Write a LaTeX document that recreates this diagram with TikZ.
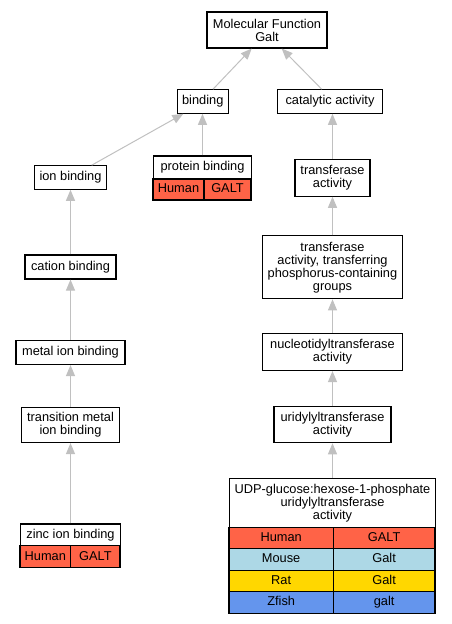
\documentclass[tikz,border=0pt]{standalone}
\usepackage{fontspec}
\setmainfont{Liberation Sans}
\usetikzlibrary{arrows.meta}
\definecolor{human}{HTML}{FF6347}
\definecolor{mouse}{HTML}{ADD8E6}
\definecolor{rat}{HTML}{FFD700}
\definecolor{zfish}{HTML}{6495ED}
\definecolor{edgegray}{HTML}{C0C0C0}
\begin{document}
\begin{tikzpicture}[x=1pt,y=-1pt,
  box/.style={draw, line width=1.1pt, inner sep=0pt, align=center, fill=white,
    font=\fontsize{12.8}{13}\selectfont},
  cell/.style={box, text height=9.3pt, text depth=2.7pt},
  edge/.style={draw=edgegray, line width=1pt, -{Triangle[length=11pt,width=9pt]}, edgegray}]
\useasboundingbox (0,0) rectangle (451,624);
% nodes
\node[box, minimum width=120pt, minimum height=36pt] (mf) at (267,30) {Molecular Function\\Galt};
\node[cell, minimum width=51pt, minimum height=23.5pt] (binding) at (202.75,101.5) {binding};
\node[cell, minimum width=105pt, minimum height=23.5pt] (cat) at (330,101.5) {catalytic activity};
\node[cell, minimum width=72pt, minimum height=23.5pt] (ion) at (70.5,177.5) {ion binding};
\node[cell, minimum width=98pt, minimum height=23pt] (prot) at (202.5,167.5) {protein binding};
\node[cell, fill=human, minimum width=51pt, minimum height=21pt] (protH) at (178.5,189.5) {Human};
\node[cell, fill=human, minimum width=47pt, minimum height=21pt] (protG) at (227.5,189.5) {GALT};
\node[box, minimum width=75pt, minimum height=37pt] (tr) at (332.5,177.7) {transferase\\activity};
\node[cell, minimum width=91pt, minimum height=24pt] (cation) at (70.5,267) {cation binding};
\node[box, minimum width=140pt, minimum height=63pt] (trp) at (332.5,267.3) {transferase\\activity, transferring\\phosphorus-containing\\groups};
\node[cell, minimum width=109pt, minimum height=24pt] (metal) at (70.5,352.5) {metal ion binding};
\node[box, minimum width=140pt, minimum height=37pt] (nuc) at (332.5,352) {nucleotidyltransferase\\activity};
\node[box, minimum width=98pt, minimum height=35pt] (trans) at (70.5,425) {transition metal\\ion binding};
\node[box, minimum width=117pt, minimum height=36pt] (uri) at (332.5,424.7) {uridylyltransferase\\activity};
\node[cell, minimum width=100pt, minimum height=21.7pt] (zinc) at (70.5,534.8) {zinc ion binding};
\node[cell, fill=human, minimum width=50.7pt, minimum height=22pt] (zincH) at (45.35,556.7) {Human};
\node[cell, fill=human, minimum width=49.3pt, minimum height=22pt] (zincG) at (95.35,556.7) {GALT};
\node[box, minimum width=206pt, minimum height=49pt] (udp) at (332.5,502.8) {UDP-glucose:hexose-1-phosphate\\uridylyltransferase\\activity};
\node[cell, fill=human, minimum width=104.3pt, minimum height=21.5pt] (udpHa) at (281.15,538.05) {Human};
\node[cell, fill=human, minimum width=101.7pt, minimum height=21.5pt] (udpHb) at (384.15,538.05) {GALT};
\node[cell, fill=mouse, minimum width=104.3pt, minimum height=21.5pt] (udpMa) at (281.15,559.55) {Mouse};
\node[cell, fill=mouse, minimum width=101.7pt, minimum height=21.5pt] (udpMb) at (384.15,559.55) {Galt};
\node[cell, fill=rat, minimum width=104.3pt, minimum height=21.5pt] (udpRa) at (281.15,581.05) {Rat};
\node[cell, fill=rat, minimum width=101.7pt, minimum height=21.5pt] (udpRb) at (384.15,581.05) {Galt};
\node[cell, fill=zfish, minimum width=104.3pt, minimum height=21.5pt] (udpZa) at (281.15,602.55) {Zfish};
\node[cell, fill=zfish, minimum width=101.7pt, minimum height=21.5pt] (udpZb) at (384.15,602.55) {galt};
% edges
\draw[edge] ([xshift=10.25pt]binding.north) -- ([xshift=-15.3pt]mf.south);
\draw[edge] ([xshift=-8.3pt]cat.north) -- ([xshift=14.7pt]mf.south);
\draw[edge] ([xshift=21.2pt]ion.north) -- ([xshift=-19.4pt]binding.south);
\draw[edge] (prot.north) -- (prot.north |- binding.south);
\draw[edge] (tr.north) -- (tr.north |- cat.south);
\draw[edge] (trp.north) -- (trp.north |- tr.south);
\draw[edge] (nuc.north) -- (nuc.north |- trp.south);
\draw[edge] (uri.north) -- (uri.north |- nuc.south);
\draw[edge] (udp.north) -- (udp.north |- uri.south);
\draw[edge] (cation.north) -- (cation.north |- ion.south);
\draw[edge] (metal.north) -- (metal.north |- cation.south);
\draw[edge] (trans.north) -- (trans.north |- metal.south);
\draw[edge] (zinc.north) -- (zinc.north |- trans.south);
\end{tikzpicture}
\end{document}
